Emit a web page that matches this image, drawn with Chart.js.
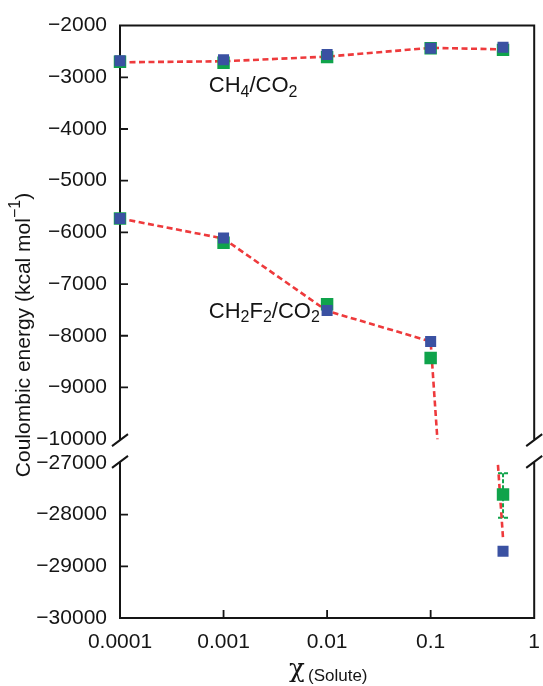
<!DOCTYPE html>
<html>
<head>
<meta charset="utf-8">
<script src="https://cdn.jsdelivr.net/npm/chart.js@4"></script>
<style>
  html, body { margin: 0; padding: 0; background: #fff; }
</style>
</head>
<body>
<canvas id="chart" width="543" height="686"></canvas>
<script>
// ==================== DATA ====================
const moleFractions = [0.0001, 0.001, 0.01, 0.1, 0.5];
const xTickValues = [0.0001, 0.001, 0.01, 0.1, 1];
const xTickLabels = ['0.0001', '0.001', '0.01', '0.1', '1'];
const yTopTicks = [-2000, -3000, -4000, -5000, -6000, -7000, -8000, -9000, -10000];
const yBottomTicks = [-27000, -28000, -29000, -30000];

// CH4/CO2
const ch4Green = [-2700, -2720, -2610, -2440, -2470];
const ch4Blue  = [-2680, -2660, -2560, -2440, -2420];
const ch4Fit   = [-2710, -2690, -2600, -2430, -2460];

// CH2F2/CO2
const ch2f2Green = [-5730, -6200, -7390, -8430, -27610];
const ch2f2Blue  = [-5730, -6110, -7510, -8110, -28710];
const ch2f2Fit   = [-5730, -6120, -7520, -8110, -28460];

// green error bar on the last CH2F2 point
const errX    = [0.5];
const errHigh = [-27200];
const errLow  = [-28060];

// label anchors (data coords)
const labelCh4   = { x: 0.00072, y: -3160 };
const labelCh2f2 = { x: 0.00072, y: -7530 };

const GREEN = '#0fa34b';
const BLUE = '#3a51a2';
const RED = '#ee3a3c';
const INK = '#151515';
const FONT = '"Liberation Sans", Arial, sans-serif';

Chart.defaults.font.family = FONT;
Chart.defaults.color = INK;

const pts = ys => moleFractions.map((x, i) => ({ x, y: ys[i] }));
const minus = v => (v < 0 ? '\u2212' : '') + Math.abs(v);

function markers(ys, color, r, axis) {
  return {
    data: pts(ys), yAxisID: axis, backgroundColor: color, borderColor: color,
    borderWidth: 0, pointStyle: 'rect', pointRadius: r, pointHoverRadius: r,
    clip: false, segPad: 14
  };
}
function fitLine(ys, axis) {
  return {
    data: pts(ys), yAxisID: axis, showLine: true, borderColor: RED, borderWidth: 2.6,
    borderDash: [6, 3.5], pointRadius: 0, pointHoverRadius: 0, clip: false, segPad: 0
  };
}

// ==================== PLUGINS ====================
// clip each dataset to its own (broken) y segment
const segmentClip = {
  id: 'segmentClip',
  beforeDatasetDraw(chart, args) {
    const ds = chart.data.datasets[args.index];
    const ys = chart.scales[args.meta.yAxisID];
    const xs = chart.scales.x;
    const pad = ds.segPad || 0;
    const ctx = chart.ctx;
    ctx.save();
    ctx.beginPath();
    ctx.rect(xs.left - 14, ys.top - pad, xs.right - xs.left + 28, ys.bottom - ys.top + 2 * pad);
    ctx.clip();
  },
  afterDatasetDraw(chart) { chart.ctx.restore(); }
};

// frame, breaks, inner ticks, error bar
const framePlugin = {
  id: 'frame',
  beforeDatasetsDraw(chart) {
    const { ctx, scales: { x, yTop, yBot } } = chart;
    const L = x.left, R = x.right, T = yTop.top, B = yBot.bottom;
    const b1 = yTop.bottom, b2 = yBot.top;
    ctx.save();
    ctx.strokeStyle = INK;
    ctx.lineWidth = 2;
    ctx.beginPath();
    ctx.moveTo(L, b1 + 1); ctx.lineTo(L, T); ctx.lineTo(R, T); ctx.lineTo(R, b1 + 1);
    ctx.moveTo(L, b2 - 1); ctx.lineTo(L, B); ctx.lineTo(R, B); ctx.lineTo(R, b2 - 1);
    [L, R].forEach(px => [b1 + 1, b2 - 1].forEach(py => {
      ctx.moveTo(px - 8, py + 6); ctx.lineTo(px + 8, py - 6);
    }));
    ctx.stroke();

    ctx.lineWidth = 1.8;
    ctx.beginPath();
    [[yTop, yTopTicks], [yBot, yBottomTicks]].forEach(([s, vals]) => {
      vals.forEach(v => {
        if (v === s.min || v === s.max) return;
        const py = s.getPixelForValue(v);
        ctx.moveTo(L, py); ctx.lineTo(L + 8, py);
      });
    });
    xTickValues.forEach(v => {
      if (v === x.min || v === x.max) return;
      const px = x.getPixelForValue(v);
      ctx.moveTo(px, B); ctx.lineTo(px, B - 8);
    });
    ctx.stroke();

    // error bar
    ctx.strokeStyle = GREEN;
    ctx.lineWidth = 2;
    ctx.setLineDash([4, 2]);
    ctx.beginPath();
    errX.forEach((v, i) => {
      const px = x.getPixelForValue(v);
      const hi = yBot.getPixelForValue(errHigh[i]);
      const lo = yBot.getPixelForValue(errLow[i]);
      ctx.moveTo(px, hi); ctx.lineTo(px, lo);
      ctx.moveTo(px - 5, hi); ctx.lineTo(px + 5, hi);
      ctx.moveTo(px - 5, lo); ctx.lineTo(px + 5, lo);
    });
    ctx.stroke();
    ctx.restore();
  }
};

// draws "main" text with sub/superscript parts; parts = [[text, kind]]
function drawRich(ctx, parts, x, y, size, align) {
  const small = Math.round(size * 0.74);
  const widths = parts.map(([t, k]) => {
    ctx.font = `${k ? small : size}px ${FONT}`;
    return ctx.measureText(t).width;
  });
  const total = widths.reduce((a, b) => a + b, 0);
  let cx = align === 'center' ? x - total / 2 : x;
  parts.forEach(([t, k], i) => {
    ctx.font = `${k ? small : size}px ${FONT}`;
    const dy = k === 'sub' ? size * 0.3 : k === 'sup' ? -size * 0.4 : 0;
    ctx.fillText(t, cx, y + dy);
    cx += widths[i];
  });
}

const textPlugin = {
  id: 'texts',
  afterDraw(chart) {
    const { ctx, scales: { x, yTop } } = chart;
    ctx.save();
    ctx.fillStyle = INK;
    ctx.textAlign = 'left';
    ctx.textBaseline = 'middle';
    drawRich(ctx, [['CH'], ['4', 'sub'], ['/CO'], ['2', 'sub']],
      x.getPixelForValue(labelCh4.x), yTop.getPixelForValue(labelCh4.y), 22, 'left');
    drawRich(ctx, [['CH'], ['2', 'sub'], ['F'], ['2', 'sub'], ['/CO'], ['2', 'sub']],
      x.getPixelForValue(labelCh2f2.x), yTop.getPixelForValue(labelCh2f2.y), 22, 'left');

    // y title
    ctx.save();
    ctx.translate(24, 335);
    ctx.rotate(-Math.PI / 2);
    drawRich(ctx, [['Coulombic energy (kcal mol'], ['\u22121', 'sup'], [')']], 0, 0, 21, 'center');
    ctx.restore();

    // x title
    ctx.textBaseline = 'alphabetic';
    ctx.font = `26px "DejaVu Serif", serif`;
    ctx.fillText('\u03c7', 289, 677);
    ctx.font = `17px ${FONT}`;
    ctx.fillText('(Solute)', 308, 681);
    ctx.restore();
  }
};

// ==================== CHART ====================
const yCommon = {
  type: 'linear', stack: 'energy',
  grid: { display: false, drawTicks: false }, border: { display: false },
  afterFit: s => { s.width = 120; }
};

new Chart(document.getElementById('chart'), {
  type: 'scatter',
  data: {
    datasets: [
      markers(ch4Blue, BLUE, 7.8, 'yTop'),
      markers(ch2f2Blue, BLUE, 7.8, 'yTop'),
      markers(ch2f2Blue, BLUE, 7.8, 'yBot'),
      markers(ch4Green, GREEN, 8.8, 'yTop'),
      markers(ch2f2Green, GREEN, 8.8, 'yTop'),
      markers(ch2f2Green, GREEN, 8.8, 'yBot'),
      fitLine(ch4Fit, 'yTop'),
      fitLine(ch2f2Fit, 'yTop'),
      fitLine(ch2f2Fit, 'yBot')
    ]
  },
  options: {
    responsive: false,
    animation: false,
    layout: { padding: { top: 19, right: 6, left: 0, bottom: 0 } },
    plugins: { legend: { display: false }, tooltip: { enabled: false } },
    scales: {
      x: {
        type: 'logarithmic', min: xTickValues[0], max: xTickValues[xTickValues.length - 1],
        grid: { display: false, drawTicks: false }, border: { display: false },
        afterBuildTicks: s => { s.ticks = xTickValues.map(v => ({ value: v })); },
        ticks: { padding: 12, font: { size: 21 }, autoSkip: false, maxRotation: 0,
          callback: (v, i) => xTickLabels[i] },
        afterFit: s => { s.height = 68; s.paddingLeft = 0; s.paddingRight = 0; }
      },
      yTop: Object.assign({}, yCommon, {
        min: yTopTicks[yTopTicks.length - 1], max: yTopTicks[0], stackWeight: 8000, weight: 3,
        afterBuildTicks: s => { s.ticks = yTopTicks.map(v => ({ value: v })); },
        ticks: { padding: 13, font: { size: 21 }, callback: v => minus(v) }
      }),
      yGap: Object.assign({}, yCommon, {
        min: 0, max: 1, stackWeight: 460, weight: 2, ticks: { display: false }
      }),
      yBot: Object.assign({}, yCommon, {
        min: yBottomTicks[yBottomTicks.length - 1], max: yBottomTicks[0], stackWeight: 3000, weight: 1,
        afterBuildTicks: s => { s.ticks = yBottomTicks.map(v => ({ value: v })); },
        ticks: { padding: 13, font: { size: 21 }, callback: v => minus(v) }
      })
    }
  },
  plugins: [segmentClip, framePlugin, textPlugin]
});
</script>
</body>
</html>
